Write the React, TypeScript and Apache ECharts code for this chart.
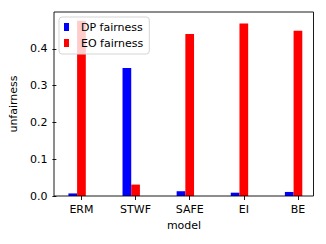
import React, { useEffect, useRef } from 'react';
import * as echarts from 'echarts';

const categories = ['ERM', 'STWF', 'SAFE', 'EI', 'BE'];
const dpFairness = [0.007, 0.348, 0.013, 0.009, 0.011];
const eoFairness = [0.476, 0.031, 0.44, 0.469, 0.449];
const spacer = [0, 0, 0, 0, 0];
const yTicks = [0, 0.1, 0.2, 0.3, 0.4];

const FONT = 'DejaVu Sans';

export default function App() {
  const ref = useRef<HTMLDivElement>(null);
  useEffect(() => {
    if (!ref.current) return;
    const chart = echarts.init(ref.current, null, { renderer: 'svg' });
    chart.setOption({
      animation: false,
      backgroundColor: '#ffffff',
      textStyle: { fontFamily: FONT },
      grid: { left: 52, right: 1, top: 12, bottom: 48, containLabel: false },
      legend: {
        orient: 'vertical',
        left: 59,
        top: 17,
        padding: [3, 6, 4, 5],
        itemGap: 2,
        itemWidth: 12,
        itemHeight: 8,
        icon: 'path://M0,0H5V8H0Z M12,0L12,8',
        backgroundColor: 'rgba(255,255,255,0.8)',
        borderColor: '#d5d5d5',
        borderWidth: 1,
        borderRadius: 3,
        textStyle: { fontFamily: FONT, fontSize: 11, color: '#000', lineHeight: 14, padding: 0 },
        data: ['DP fairness', 'EO fairness'],
      },
      xAxis: {
        type: 'category',
        data: categories,
        boundaryGap: true,
        axisLine: { show: false },
        axisTick: { show: true, alignWithLabel: true, length: 4, lineStyle: { color: '#000', width: 0.9 } },
        axisLabel: { fontFamily: FONT, fontSize: 11, color: '#000', margin: 8 },
        splitLine: { show: false },
      },
      yAxis: {
        type: 'value',
        min: 0,
        max: 0.5,
        interval: 0.1,
        offset: -2,
        name: 'unfairness',
        nameLocation: 'middle',
        nameGap: 28,
        nameTextStyle: { fontFamily: FONT, fontSize: 11, color: '#000' },
        axisLine: { show: false },
        axisTick: { show: true, length: 4, customValues: yTicks, lineStyle: { color: '#000', width: 0.9 } },
        axisLabel: {
          fontFamily: FONT,
          fontSize: 11,
          color: '#000',
          margin: 9,
          customValues: yTicks,
          formatter: (v: number) => v.toFixed(1),
        },
        splitLine: { show: false },
      },
      graphic: [
        {
          type: 'rect',
          z: 100,
          silent: true,
          shape: { x: 54, y: 12, width: 259.5, height: 184 },
          style: { fill: 'none', stroke: '#000', lineWidth: 0.9 },
        },
        {
          type: 'text',
          x: 184,
          y: 225,
          style: {
            text: 'model',
            fontFamily: FONT,
            fontSize: 11,
            fill: '#000',
            textAlign: 'center',
            textVerticalAlign: 'middle',
          },
        },
      ],
      series: [
        {
          name: 'DP fairness',
          type: 'bar',
          data: dpFairness,
          barWidth: 8.7,
          barGap: '0%',
          itemStyle: { color: '#0000ff' },
        },
        {
          name: 'EO fairness',
          type: 'bar',
          data: eoFairness,
          barWidth: 8.7,
          barGap: '0%',
          itemStyle: { color: '#ff0000' },
        },
        {
          name: 'spacer',
          type: 'bar',
          data: spacer,
          barWidth: 8.7,
          barGap: '0%',
          itemStyle: { color: 'rgba(0,0,0,0)' },
          silent: true,
        },
      ],
    });
    return () => chart.dispose();
  }, []);
  return <div ref={ref} style={{ position: 'absolute', left: 0, top: 0, width: 326, height: 244 }} />;
}
